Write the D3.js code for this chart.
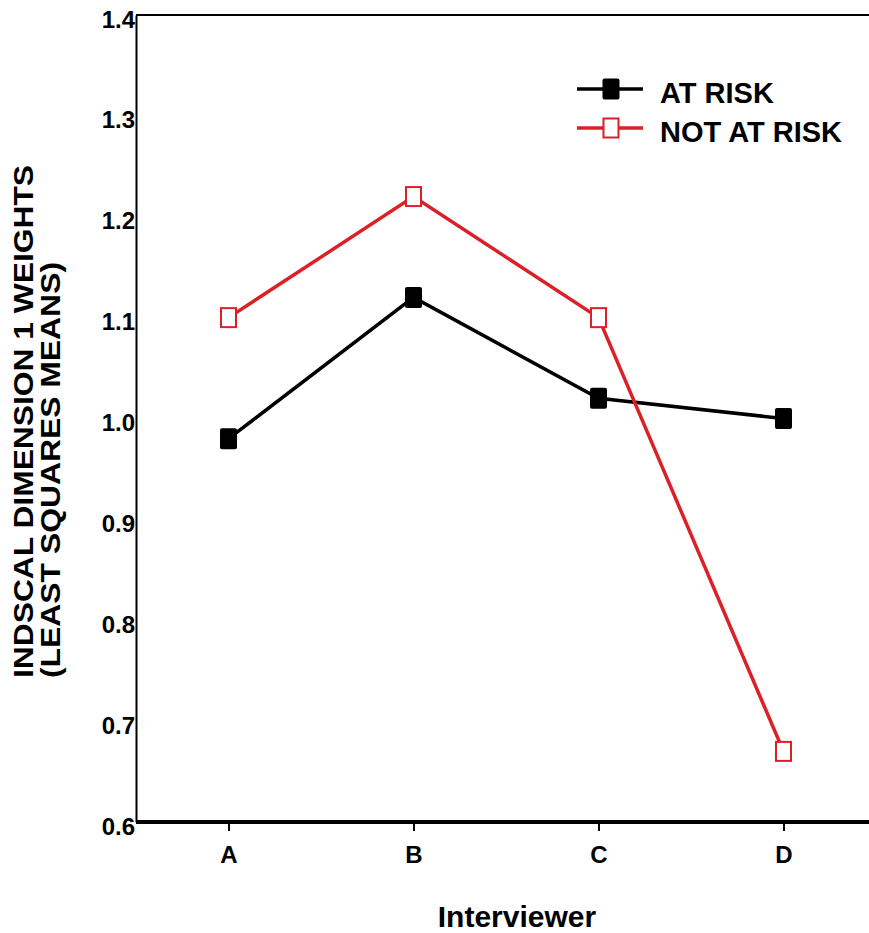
<!DOCTYPE html>
<html>
<head>
<meta charset="utf-8">
<script src="https://cdn.jsdelivr.net/npm/d3@7"></script>
<style>
  html, body { margin: 0; padding: 0; background: #fff; }
  svg { display: block; }
  text { font-family: "Liberation Sans", Arial, sans-serif; font-weight: bold; fill: #000; }
</style>
</head>
<body>
<svg id="chart" width="869" height="933"></svg>
<script>
const categories = ["A", "B", "C", "D"];
const atRisk = [0.98, 1.12, 1.02, 1.00];
const notAtRisk = [1.10, 1.22, 1.10, 0.67];
const yTicks = [0.6, 0.7, 0.8, 0.9, 1.0, 1.1, 1.2, 1.3, 1.4];
const seriesNames = ["AT RISK", "NOT AT RISK"];
const xTitle = "Interviewer";
const yTitle1 = "INDSCAL DIMENSION 1 WEIGHTS";
const yTitle2 = "(LEAST SQUARES MEANS)";

(function () {
const RED = "#db2127";
const svg = d3.select("#chart");

const pLeft = 136, pRight = 876, pTop = 15, pBottom = 822;

const x = d3.scalePoint().domain(categories).range([pLeft, pRight]).padding(0.5);
const y = d3.scaleLinear().domain([0.6, 1.4]).range([pBottom, pTop]);

// top frame line
svg.append("line")
  .attr("x1", pLeft).attr("x2", 869).attr("y1", pTop).attr("y2", pTop)
  .attr("stroke", "#000").attr("stroke-width", 2);

// y axis
const yAxis = svg.append("g")
  .attr("transform", `translate(${pLeft},0)`)
  .call(d3.axisLeft(y).tickValues(yTicks).tickFormat(d3.format(".1f")).tickSize(0).tickPadding(1));
yAxis.select(".domain").attr("stroke", "#000").attr("stroke-width", 2);
yAxis.selectAll("text").attr("dy", "0.5em")
  .style("font-size", "24px")
  .style("font-family", '"Liberation Sans", Arial, sans-serif').style("font-weight", "bold");

// x axis
const xAxis = svg.append("g")
  .attr("transform", `translate(0,${pBottom})`)
  .call(d3.axisBottom(x).tickSize(9).tickPadding(15).tickSizeOuter(0));
xAxis.select(".domain").attr("d", `M${pLeft},0H869`).attr("stroke", "#000").attr("stroke-width", 4);
xAxis.selectAll(".tick line").attr("stroke", "#000").attr("stroke-width", 2).attr("y1", 2);
xAxis.selectAll("text")
  .style("font-size", "24px")
  .style("font-family", '"Liberation Sans", Arial, sans-serif').style("font-weight", "bold");

// axis titles
svg.append("text").attr("x", 517).attr("y", 927).attr("text-anchor", "middle")
  .style("font-size", "30px").text(xTitle);

svg.append("text").attr("transform", "translate(33,678) rotate(-90)")
  .attr("text-anchor", "start").style("font-size", "28px")
  .attr("textLength", 513).attr("lengthAdjust", "spacingAndGlyphs").text(yTitle1);
svg.append("text").attr("transform", "translate(60,678) rotate(-90)")
  .attr("text-anchor", "start").style("font-size", "28px")
  .attr("textLength", 416).attr("lengthAdjust", "spacingAndGlyphs").text(yTitle2);

const line = d3.line().x((d, i) => x(categories[i])).y(d => y(d));

const MW = 17, MH = 21;

svg.append("path").datum(atRisk).attr("d", line)
  .attr("fill", "none").attr("stroke", "#000").attr("stroke-width", 3.5);
svg.append("path").datum(notAtRisk).attr("d", line)
  .attr("fill", "none").attr("stroke", RED).attr("stroke-width", 3.5);

svg.selectAll(".m1").data(atRisk).enter().append("rect")
  .attr("x", (d, i) => x(categories[i]) - MW / 2).attr("y", d => y(d) - MH / 2)
  .attr("width", MW).attr("height", MH).attr("rx", 2)
  .attr("fill", "#000");

svg.selectAll(".m2").data(notAtRisk).enter().append("rect")
  .attr("x", (d, i) => x(categories[i]) - (MW - 2) / 2).attr("y", d => y(d) - (MH - 2) / 2)
  .attr("width", MW - 2).attr("height", MH - 2)
  .attr("fill", "#fff").attr("stroke", RED).attr("stroke-width", 2);

// legend
const lg = svg.append("g");
const rows = [{ name: seriesNames[0], y: 89, color: "#000", filled: true },
              { name: seriesNames[1], y: 128, color: RED, filled: false }];
rows.forEach(r => {
  lg.append("line").attr("x1", 577).attr("x2", 643).attr("y1", r.y).attr("y2", r.y)
    .attr("stroke", r.color).attr("stroke-width", 3.5);
  if (r.filled) {
    lg.append("rect").attr("x", 611 - MW / 2).attr("y", r.y - MH / 2)
      .attr("width", MW).attr("height", MH).attr("rx", 2).attr("fill", "#000");
  } else {
    lg.append("rect").attr("x", 611 - (MW - 2) / 2).attr("y", r.y - (MH - 2) / 2)
      .attr("width", MW - 2).attr("height", MH - 2)
      .attr("fill", "#fff").attr("stroke", RED).attr("stroke-width", 2);
  }
  lg.append("text").attr("x", 660).attr("y", r.y + 14).style("font-size", "29px").text(r.name);
});
})();
</script>
</body>
</html>
